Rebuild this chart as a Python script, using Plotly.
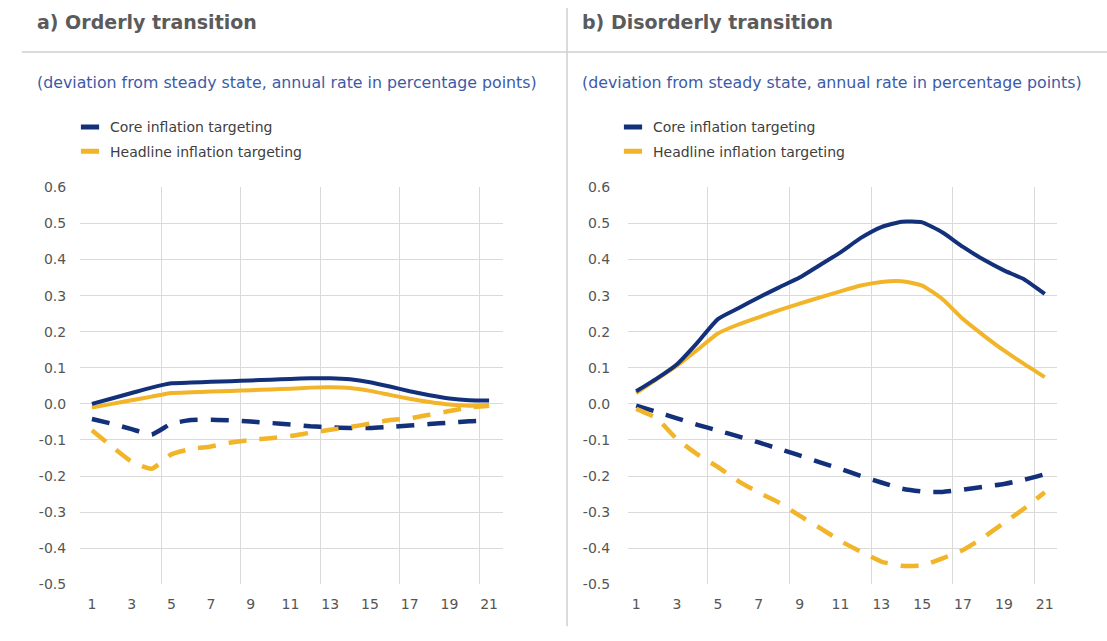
import plotly.graph_objects as go

# ---------------- data ----------------
periods = list(range(1, 22))
x_tick_vals = list(range(1, 22, 2))
x_tick_labels = [str(v) for v in x_tick_vals]
x_grid_vals = [4.5, 8.5, 12.5, 16.5, 20.5]
y_tick_vals = [-0.5, -0.4, -0.3, -0.2, -0.1, 0.0, 0.1, 0.2, 0.3, 0.4, 0.5, 0.6]
y_tick_labels = ["-0.5", "-0.4", "-0.3", "-0.2", "-0.1", "0.0", "0.1", "0.2", "0.3", "0.4", "0.5", "0.6"]

# a) Orderly transition
orderly_core_solid = [0.0, 0.015, 0.03, 0.045, 0.057, 0.059, 0.061, 0.063, 0.065, 0.067, 0.069,
                      0.071, 0.071, 0.068, 0.060, 0.048, 0.035, 0.024, 0.015, 0.010, 0.009]
orderly_head_solid = [-0.01, 0.0, 0.01, 0.02, 0.03, 0.032, 0.034, 0.036, 0.038, 0.040, 0.042,
                      0.045, 0.046, 0.044, 0.036, 0.025, 0.014, 0.005, -0.002, -0.005, -0.003]
orderly_core_dash = [-0.042, -0.055, -0.070, -0.085, -0.055, -0.045, -0.044, -0.046, -0.049, -0.053, -0.057,
                     -0.062, -0.065, -0.067, -0.067, -0.064, -0.060, -0.056, -0.052, -0.048, -0.046]
orderly_head_dash = [-0.073, -0.118, -0.160, -0.180, -0.140, -0.125, -0.118, -0.107, -0.100, -0.095, -0.089,
                     -0.080, -0.072, -0.064, -0.055, -0.045, -0.040, -0.030, -0.020, -0.010, -0.005]

# b) Disorderly transition
disorderly_core_solid = [0.035, 0.070, 0.110, 0.170, 0.235, 0.265, 0.295, 0.323, 0.350, 0.385, 0.420,
                         0.460, 0.490, 0.505, 0.503, 0.475, 0.435, 0.400, 0.370, 0.345, 0.305]
disorderly_head_solid = [0.030, 0.068, 0.106, 0.150, 0.195, 0.220, 0.240, 0.260, 0.278, 0.295, 0.312,
                         0.328, 0.338, 0.340, 0.328, 0.290, 0.235, 0.190, 0.148, 0.110, 0.074]
disorderly_core_dash = [-0.005, -0.022, -0.040, -0.058, -0.074, -0.090, -0.107, -0.125, -0.143, -0.162, -0.180,
                        -0.200, -0.218, -0.235, -0.243, -0.244, -0.238, -0.230, -0.222, -0.210, -0.195]
disorderly_head_dash = [-0.014, -0.040, -0.098, -0.140, -0.175, -0.214, -0.246, -0.274, -0.310, -0.344, -0.380,
                        -0.410, -0.437, -0.449, -0.448, -0.428, -0.405, -0.370, -0.330, -0.290, -0.245]

panel_titles = ["a) Orderly transition", "b) Disorderly transition"]
subtitle = "(deviation from steady state, annual rate in percentage points)"
legend_names = ["Core inflation targeting", "Headline inflation targeting"]

# ---------------- style ----------------
W, H = 1107, 641
BLUE = "#13307a"
YELLOW = "#f2b428"
GRID = "#dadada"
FONT = "DejaVu Sans, Liberation Sans, Arial, sans-serif"
DASH = "18px,13px"


def px_x(p):
    return p / W


def px_y(p):
    return 1 - p / H


fig = go.Figure()

panels = [
    dict(xa="x", ya="y", legend="legend",
         series=[orderly_core_solid, orderly_head_solid, orderly_core_dash, orderly_head_dash]),
    dict(xa="x2", ya="y2", legend="legend2",
         series=[disorderly_core_solid, disorderly_head_solid, disorderly_core_dash, disorderly_head_dash]),
]

for i, p in enumerate(panels):
    cs, hs, cd, hd = p["series"]
    common = dict(mode="lines", xaxis=p["xa"], yaxis=p["ya"], legend=p["legend"], showlegend=False)
    fig.add_trace(go.Scatter(x=periods, y=cd, legendgroup=f"core{i}", hoverinfo="skip",
                             line=dict(color=BLUE, width=4.5, dash=DASH, shape="spline", smoothing=0.5),
                             name=legend_names[0] + " (dashed)", **common))
    fig.add_trace(go.Scatter(x=periods, y=hd, legendgroup=f"head{i}", hoverinfo="skip",
                             line=dict(color=YELLOW, width=4.5, dash=DASH, shape="spline", smoothing=0.5),
                             name=legend_names[1] + " (dashed)", **common))
    fig.add_trace(go.Scatter(x=periods, y=hs, legendgroup=f"head{i}",
                             line=dict(color=YELLOW, width=4, shape="spline", smoothing=0.5),
                             name=legend_names[1], **common))
    fig.add_trace(go.Scatter(x=periods, y=cs, legendgroup=f"core{i}",
                             line=dict(color=BLUE, width=4, shape="spline", smoothing=0.5),
                             name=legend_names[0], **common))
    # legend entries with short, thick swatches
    for name, color, grp, rank in [(legend_names[0], BLUE, f"core{i}", 1),
                                   (legend_names[1], YELLOW, f"head{i}", 2)]:
        fig.add_trace(go.Scatter(x=[None], y=[None], mode="markers", xaxis=p["xa"], yaxis=p["ya"],
                                 legend=p["legend"], legendgroup=grp, legendrank=rank, name=name,
                                 showlegend=True,
                                 marker=dict(symbol="line-ew", size=13, color=color,
                                             line=dict(width=5, color=color))))

xaxis_common = dict(
    tickmode="array", tickvals=x_tick_vals, ticktext=x_tick_labels,
    showgrid=False, zeroline=False, showline=False,
    ticks="outside", ticklen=7, tickcolor="rgba(0,0,0,0)",
    tickfont=dict(family=FONT, size=14, color="#555555"),
    minor=dict(tickmode="array", tickvals=x_grid_vals, showgrid=True, gridcolor=GRID, gridwidth=1, ticks=""),
    fixedrange=True,
)
yaxis_common = dict(
    range=[-0.5, 0.6], tickmode="array", tickvals=y_tick_vals, ticktext=y_tick_labels,
    showgrid=True, gridcolor=GRID, gridwidth=1, zeroline=False, showline=False,
    ticks="outside", tickcolor="rgba(0,0,0,0)",
    tickfont=dict(family=FONT, size=14, color="#555555"),
    domain=[1 - 591 / H, 1 - 184 / H],
    fixedrange=True,
)

fig.update_layout(
    width=W, height=H,
    margin=dict(l=0, r=0, t=0, b=0),
    paper_bgcolor="white", plot_bgcolor="white",
    font=dict(family=FONT, color="#404040"),
    xaxis=dict(xaxis_common, range=[0.4, 21.7], domain=[px_x(80), px_x(503)], anchor="y"),
    yaxis=dict(yaxis_common, anchor="x", ticklen=10),
    xaxis2=dict(xaxis_common, range=[0.6, 21.6], domain=[px_x(628), px_x(1057)], anchor="y2"),
    yaxis2=dict(yaxis_common, anchor="x2", ticklen=14),
    legend=dict(x=px_x(70), y=px_y(106), xanchor="left", yanchor="top",
                font=dict(family=FONT, size=14, color="#404040"),
                bgcolor="rgba(0,0,0,0)", tracegroupgap=3, itemwidth=30),
    legend2=dict(x=px_x(613), y=px_y(106), xanchor="left", yanchor="top",
                 font=dict(family=FONT, size=14, color="#404040"),
                 bgcolor="rgba(0,0,0,0)", tracegroupgap=3, itemwidth=30),
    showlegend=True,
)

for tx, title in zip([35, 580], panel_titles):
    fig.add_annotation(text=f"<b>{title}</b>", xref="paper", yref="paper",
                       x=px_x(tx), y=px_y(14.5), xanchor="left", yanchor="middle", showarrow=False,
                       font=dict(family=FONT, size=19, color="#5b5b5b"))
    fig.add_annotation(text=subtitle, xref="paper", yref="paper",
                       x=px_x(tx), y=px_y(76), xanchor="left", yanchor="middle", showarrow=False,
                       font=dict(family=FONT, size=15.8, color="#3d5aa8"))

fig.add_shape(type="line", xref="paper", yref="paper", x0=px_x(22), x1=1, y0=px_y(45), y1=px_y(45),
              line=dict(color="#cfcfcf", width=1.5))
fig.add_shape(type="line", xref="paper", yref="paper", x0=px_x(567), x1=px_x(567), y0=px_y(0), y1=px_y(634),
              line=dict(color="#cfcfcf", width=1.5))

fig.write_html(
    "out.html",
    config={"displayModeBar": False},
    post_script=(
        "var d=document.getElementById('{plot_id}');"
        "d.style.position='fixed';d.style.top='0px';d.style.left='0px';"
        "document.body.style.margin='0';document.body.style.overflow='hidden';"
        "document.documentElement.style.overflow='hidden';"
    ),
)
